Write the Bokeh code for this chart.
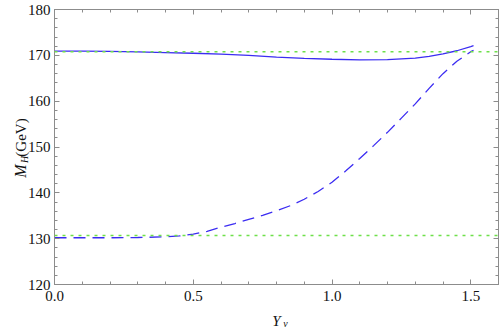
import math
from bokeh.plotting import figure
from bokeh.models import (Range1d, FixedTicker, LinearAxis, Label, Span,
                          CustomJSTickFormatter)
from bokeh.embed import file_html
from bokeh.resources import INLINE

# ---- data ----
x_solid = [0.0, 0.1, 0.2, 0.3, 0.4, 0.5, 0.6, 0.7, 0.8, 0.9, 1.0, 1.1,
           1.2, 1.3, 1.35, 1.4, 1.45, 1.5, 1.51]
m_solid = [170.9, 170.9, 170.85, 170.75, 170.6, 170.45, 170.25, 170.0,
           169.6, 169.35, 169.15, 169.0, 169.05, 169.4, 169.75, 170.3,
           171.0, 171.9, 172.1]

x_dashed = [0.0, 0.1, 0.2, 0.3, 0.4, 0.45, 0.5, 0.55, 0.6, 0.65, 0.7,
            0.75, 0.8, 0.85, 0.9, 0.95, 1.0, 1.05, 1.1, 1.15, 1.2, 1.25,
            1.3, 1.35, 1.4, 1.45, 1.5, 1.51]
m_dashed = [130.2, 130.2, 130.2, 130.25, 130.4, 130.6, 131.0, 131.6,
            132.5, 133.3, 134.2, 135.1, 136.1, 137.2, 138.6, 140.3, 142.3,
            144.8, 147.5, 150.3, 153.2, 156.3, 159.4, 162.8, 166.0, 168.7,
            170.8, 171.1]

ref_levels = [170.8, 130.7]

x_major = [0.0, 0.5, 1.0, 1.5]
x_minor = [round(0.1 * i, 1) for i in range(0, 17)]
y_major = [120, 130, 140, 150, 160, 170, 180]
y_minor = list(range(120, 181, 2))

FONT = "Liberation Serif"
FRAME = "#8c8c8c"
BLUE = "#3b2cf2"
GREEN = "#6ee04a"
TEXT = "#111111"

W, H = 500, 334

p = figure(width=W, height=H, output_backend="svg", toolbar_location=None,
           x_range=Range1d(0, 1.6), y_range=Range1d(120, 180),
           x_axis_location=None, y_axis_location=None,
           min_border_left=54, min_border_right=2,
           min_border_top=9, min_border_bottom=50)
p.grid.visible = False
p.outline_line_color = FRAME
p.outline_line_width = 1
p.background_fill_color = "white"
p.border_fill_color = "white"

xt = FixedTicker(ticks=x_major, minor_ticks=x_minor)
yt = FixedTicker(ticks=y_major, minor_ticks=y_minor)

def style(ax, show_labels, major_len):
    ax.axis_line_color = FRAME
    ax.major_tick_line_color = FRAME
    ax.minor_tick_line_color = FRAME
    ax.major_tick_in = major_len
    ax.major_tick_out = 0
    ax.minor_tick_in = 3
    ax.minor_tick_out = 0
    if show_labels:
        ax.major_label_text_font = FONT
        ax.major_label_text_font_size = "15px"
        ax.major_label_text_color = TEXT
    else:
        ax.major_label_text_font_size = "0px"
        ax.major_label_standoff = 0

bx = LinearAxis(ticker=xt)
bx.formatter = CustomJSTickFormatter(code="return tick.toFixed(1);")
style(bx, True, 5)
bx.major_label_standoff = 6
p.add_layout(bx, "below")

ly = LinearAxis(ticker=yt)
style(ly, True, 5)
ly.major_label_standoff = 4
p.add_layout(ly, "left")

tx = LinearAxis(ticker=xt)
style(tx, False, 5)
p.add_layout(tx, "above")

ry = LinearAxis(ticker=yt)
style(ry, False, 5)
p.add_layout(ry, "right")

for lv in ref_levels:
    p.add_layout(Span(location=lv, dimension="width", line_color=GREEN,
                      line_width=1.5, line_dash="3 5"))

p.line(x_solid, m_solid, line_color=BLUE, line_width=1.3)
p.line(x_dashed, m_dashed, line_color=BLUE, line_width=1.3,
       line_dash="12 7")

# axis titles: labels placed in side panels (not clipped by the frame)
common = dict(text_font=FONT, text_color=TEXT, text_align="left",
              text_baseline="alphabetic")
rot = math.pi / 2

p.add_layout(Label(x=-0.1225, y=147.9, text="(GeV)", text_font_size="15px",
                   angle=rot, **common), "left")
p.add_layout(Label(x=0.785, y=112.14, text="Y", text_font_size="15px",
                   text_font_style="italic", **common), "left")
p.add_layout(Label(x=-0.1225, y=143.3, text="M", text_font_size="16px",
                   text_font_style="italic", angle=rot, **common), "below")
p.add_layout(Label(x=0.824, y=111.49, text="ν", text_font_size="10px",
                   text_font_style="italic", **common), "below")
p.add_layout(Label(x=-0.109, y=146.5, text="H", text_font_size="10px",
                   text_font_style="italic", angle=rot, **common), "above")

open("out.html", "w").write(file_html(p, INLINE))
